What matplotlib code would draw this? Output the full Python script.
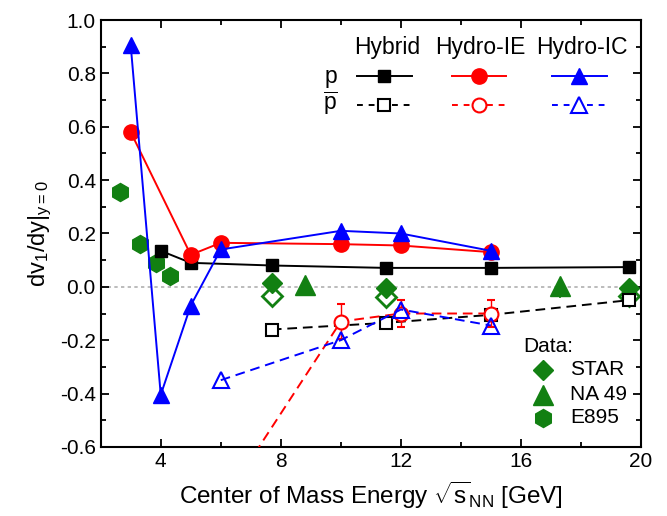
import matplotlib
matplotlib.use("Agg")
import matplotlib.pyplot as plt
from matplotlib.ticker import MultipleLocator, FuncFormatter

plt.rcParams['font.family'] = ['Liberation Sans', 'DejaVu Sans']
plt.rcParams['mathtext.fontset'] = 'custom'
plt.rcParams['mathtext.rm'] = 'Liberation Sans'
plt.rcParams['mathtext.it'] = 'Liberation Sans'
plt.rcParams['mathtext.bf'] = 'Liberation Sans:bold'
plt.rcParams['axes.unicode_minus'] = False

# ---- data ----
hyb_p_x = [4.0, 5.0, 7.7, 11.5, 15.0, 19.6]
hyb_p_y = [0.135, 0.09, 0.08, 0.071, 0.071, 0.074]
hyb_pb_x = [7.7, 11.5, 15.0, 19.6]
hyb_pb_y = [-0.16, -0.135, -0.105, -0.05]

ie_p_x = [3.0, 5.0, 6.0, 10.0, 12.0, 15.0]
ie_p_y = [0.58, 0.12, 0.165, 0.16, 0.155, 0.13]
ie_pb_x = [6.0, 10.0, 12.0, 15.0]
ie_pb_y = [-0.82, -0.13, -0.10, -0.10]
ie_pb_err = [0.0, 0.065, 0.05, 0.05]

ic_p_x = [3.0, 4.0, 5.0, 6.0, 10.0, 12.0, 15.0]
ic_p_y = [0.905, -0.405, -0.07, 0.14, 0.21, 0.20, 0.135]
ic_pb_x = [6.0, 10.0, 12.0, 15.0]
ic_pb_y = [-0.35, -0.20, -0.085, -0.145]

star_x = [7.7, 11.5, 19.6]
star_p_y = [0.015, -0.003, -0.003]
star_pb_y = [-0.035, -0.04, -0.035]
star_err = [0.02, 0.02, 0.02]

na49_x = [8.8, 17.3]
na49_y = [0.005, 0.003]
na49_err = [0.04, 0.045]

e895_x = [2.63, 3.3, 3.83, 4.3]
e895_y = [0.355, 0.16, 0.09, 0.042]

green = '#128012'

fig = plt.figure(figsize=(6.67, 5.16), dpi=100)
ax = fig.add_axes([0.151, 0.134, 0.81, 0.827])

ax.axhline(0, color='#b0b0b0', ls=(0, (2, 2)), lw=1.2, zorder=0)

# experimental data
ax.errorbar(star_x, star_pb_y, yerr=star_err, fmt='D', mfc='white', mec=green,
            color=green, ms=10, mew=2, elinewidth=1.2, capsize=0, zorder=2)
ax.errorbar(star_x, star_p_y, yerr=star_err, fmt='D', color=green, ms=10,
            elinewidth=1.2, capsize=0, zorder=2)
ax.errorbar(na49_x, na49_y, yerr=[na49_err, [0, 0]], fmt='^', color=green, ms=14,
            elinewidth=1.2, capsize=0, zorder=2)
ax.plot(e895_x, e895_y, 'h', color=green, ms=13, ls='none', zorder=2)

# models
ax.plot(hyb_p_x, hyb_p_y, '-s', color='black', ms=8.5, lw=1.4, zorder=3)
ax.plot(hyb_pb_x, hyb_pb_y, 's', color='black', ms=8, mfc='white', mew=1.5,
        ls=(0, (5, 3)), lw=1.4, zorder=3)
ax.plot(ie_p_x, ie_p_y, '-o', color='red', ms=11, lw=1.4, zorder=4)
ax.errorbar(ie_pb_x, ie_pb_y, yerr=ie_pb_err, fmt='o', color='red', ms=10,
            mfc='white', mew=1.5, ls=(0, (5, 3)), lw=1.4, elinewidth=1,
            capsize=3, zorder=4)
ax.plot(ic_p_x, ic_p_y, '-^', color='blue', ms=12, lw=1.4, zorder=5)
ax.plot(ic_pb_x, ic_pb_y, '^', color='blue', ms=11, mfc='none', mew=1.5,
        ls=(0, (5, 3)), lw=1.4, zorder=5)

ax.set_xlim(2, 20)
ax.set_ylim(-0.6, 1.0)
ax.xaxis.set_major_locator(MultipleLocator(4))
ax.xaxis.set_minor_locator(MultipleLocator(2))
ax.yaxis.set_major_locator(MultipleLocator(0.2))
ax.yaxis.set_minor_locator(MultipleLocator(0.1))
ax.yaxis.set_major_formatter(FuncFormatter(lambda v, p: f"{v:.1f}".replace('-0.0', '0.0')))
ax.tick_params(which='both', direction='in', top=True, right=True, width=1.3)
ax.tick_params(which='major', length=6, labelsize=15)
ax.tick_params(which='minor', length=3.5)
for s in ax.spines.values():
    s.set_linewidth(1.5)

ax.set_xlabel(r"Center of Mass Energy $\sqrt{\mathrm{s}}_{\mathrm{NN}}$ [GeV]", fontsize=17.5, labelpad=6)
ax.set_ylabel(r"dv$_{\mathrm{1}}$/dy|$_{\mathrm{y=0}}$", fontsize=17, labelpad=4)

# manual legend (top right)
T = ax.transAxes
def px2ax(px, py):
    return ((px - 101) / 540.0, (447 - py) / 427.0)

for txt, cx in [("Hybrid", 387), ("Hydro-IE", 480), ("Hydro-IC", 582)]:
    x, y = px2ax(cx, 47)
    ax.text(x, y, txt, transform=T, ha='center', va='center', fontsize=16.5)
x, y = px2ax(331, 76)
ax.text(x, y, "p", transform=T, ha='center', va='center', fontsize=16.5)
x, y = px2ax(331, 103)
ax.text(x, y, r"$\overline{\mathrm{p}}$", transform=T, ha='center', va='center', fontsize=16.5)

legend_specs = [
    (357, 412, 'black', 's', 8.5, 8),
    (452, 506, 'red', 'o', 11, 10),
    (552, 607, 'blue', '^', 12, 11),
]
for x0, x1, c, m, ms_f, ms_o in legend_specs:
    a0, yy = px2ax(x0, 76)
    a1, _ = px2ax(x1, 76)
    ax.plot([a0, a1], [yy, yy], '-', color=c, lw=1.4, transform=T, clip_on=False)
    ax.plot([(a0 + a1) / 2], [yy], m, color=c, ms=ms_f, transform=T, clip_on=False)
    a0, yy = px2ax(x0, 105)
    a1, _ = px2ax(x1, 105)
    ax.plot([a0, a1], [yy, yy], color=c, lw=1.4, ls=(0, (3, 3)), transform=T, clip_on=False)
    ax.plot([(a0 + a1) / 2], [yy], m, color=c, ms=ms_o, mfc='white', mew=1.5,
            transform=T, clip_on=False)

# data legend (bottom right)
x, y = px2ax(523, 347)
ax.text(x, y, "Data:", transform=T, ha='left', va='center', fontsize=15)
for m, lab, py, ms in [('D', 'STAR', 370, 10), ('^', 'NA 49', 395, 14), ('h', 'E895', 418, 13)]:
    x, y = px2ax(543, py)
    ax.plot([x], [y], m, color=green, ms=ms, transform=T, clip_on=False)
    x2, _ = px2ax(570, py)
    ax.text(x2, y, lab, transform=T, ha='left', va='center', fontsize=15)

fig.savefig("out.png", dpi=100)
